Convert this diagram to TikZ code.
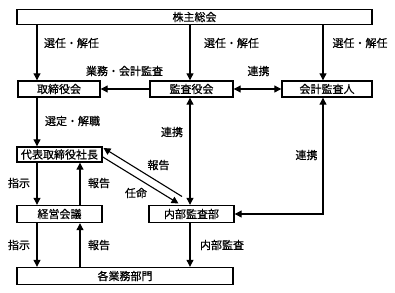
\documentclass[tikz,border=0pt]{standalone}
\usepackage{fontspec}
\setmainfont[AutoFakeBold=0.6]{Noto Sans CJK JP}
\usetikzlibrary{arrows.meta}
\begin{document}
\begin{tikzpicture}[x=1pt,y=-1pt,
  box/.style={draw,line width=1.4pt,inner sep=0pt,font=\fontsize{11}{13}\selectfont\bfseries},
  lbl/.style={inner sep=0pt,font=\fontsize{11}{13}\selectfont\bfseries},
  con/.style={line width=1.1pt,-{Triangle[length=7pt,width=7pt]}},
  dcon/.style={line width=1.1pt,{Triangle[length=7pt,width=7pt]}-{Triangle[length=7pt,width=7pt]}},
  rcon/.style={line width=1.1pt,{Triangle[length=7pt,width=7pt]}-}]
\useasboundingbox (0,0) rectangle (395,292);
% boxes
\node[box,minimum width=355pt,minimum height=14.5pt] (gm) at (194.5,17) {株主総会};
\node[box,minimum width=82pt,minimum height=16pt] (bod) at (59,89) {取締役会};
\node[box,minimum width=83pt,minimum height=16pt] (aud) at (191.5,89) {監査役会};
\node[box,minimum width=90pt,minimum height=16pt] (acc) at (327,89) {会計監査人};
\node[box,minimum width=85pt,minimum height=15pt] (ceo) at (59.5,154.5) {代表取締役社長};
\node[box,minimum width=85pt,minimum height=17pt] (mgm) at (59.5,214) {経営会議};
\node[box,minimum width=85pt,minimum height=17pt] (ia) at (191.5,214) {内部監査部};
\node[box,minimum width=216pt,minimum height=17pt] (dep) at (125,276) {各業務部門};
% connectors
\draw[con] (gm.south -| 37,0) -- (bod.north -| 37,0);
\draw[con] (gm.south -| 190,0) -- (aud.north -| 190,0);
\draw[con] (gm.south -| 323,0) -- (acc.north -| 323,0);
\draw[con] (aud.west) -- (bod.east);
\draw[dcon] (aud.east) -- (acc.west);
\draw[con] (bod.south -| 37,0) -- (ceo.north -| 37,0);
\draw[dcon] (aud.south -| 190,0) -- (ia.north -| 190,0);
\draw[dcon] (acc.south -| 323,0) |- (ia.east);
\draw[con] (ceo.south -| 37,0) -- (mgm.north -| 37,0);
\draw[con] (mgm.north -| 80,0) -- (ceo.south -| 80,0);
\draw[con] (mgm.south -| 37,0) -- (dep.north -| 37,0);
\draw[con] (dep.north -| 80,0) -- (mgm.south -| 80,0);
\draw[con] (ia.south -| 190,0) -- (dep.north -| 190,0);
% diagonal pair
\coordinate (d1) at (103.5,148);
\coordinate (d2) at (182,196.5);
\coordinate (d3) at (102,156.5);
\coordinate (d4) at (178.5,203.5);
\draw[rcon] (d1) -- (d2);
\draw[con] (d3) -- (d4);
% labels
\node[lbl] (l1) at (71.5,43) {選任・解任};
\node[lbl] (l2) at (231.5,43) {選任・解任};
\node[lbl] (l3) at (360,43) {選任・解任};
\node[lbl] (l4) at (124.5,71) {業務・会計監査};
\node[lbl] (l5) at (258.5,71) {連携};
\node[lbl] (l6) at (72.5,121) {選定・解職};
\node[lbl] (l7) at (172,132) {連携};
\node[lbl] (l8) at (306.5,155) {連携};
\node[lbl] (l9) at (19,183) {指示};
\node[lbl] (l10) at (99,183) {報告};
\node[lbl] (l11) at (158.5,165) {報告};
\node[lbl] (l12) at (136,193) {任命};
\node[lbl] (l13) at (19,245) {指示};
\node[lbl] (l14) at (99,245) {報告};
\node[lbl] (l15) at (222,245) {内部監査};
\end{tikzpicture}
\end{document}
